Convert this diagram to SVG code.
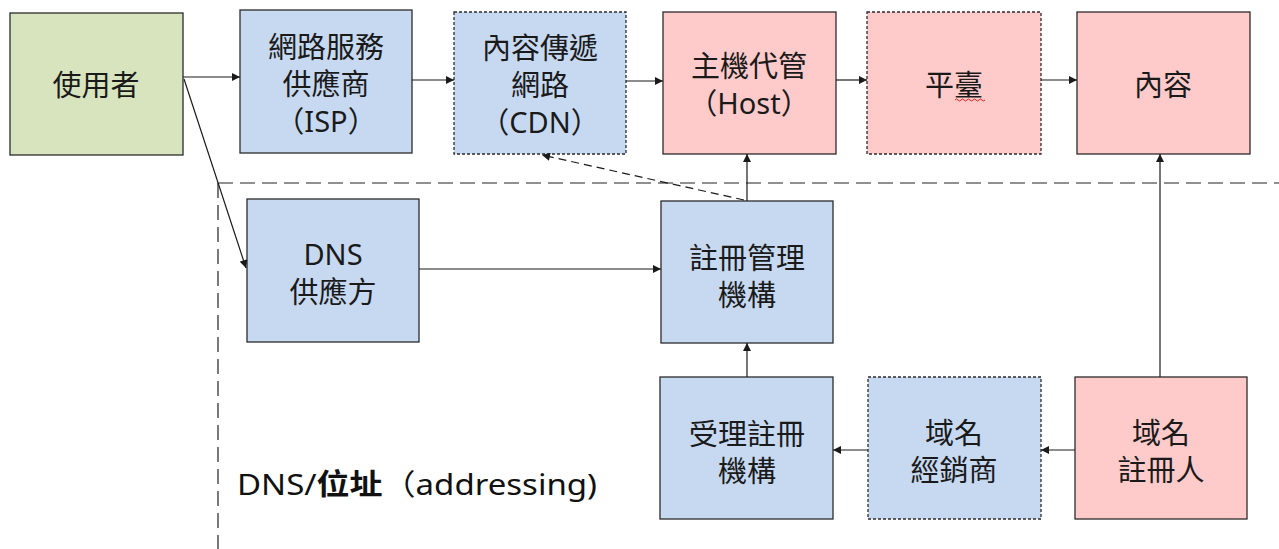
<svg xmlns="http://www.w3.org/2000/svg" width="1279" height="549" viewBox="0 0 1279 549">
<style>
  .box{stroke:#2b2b2b;stroke-width:1.3}
  .dash{stroke-dasharray:3,2}
  .green{fill:#d7e4bd}
  .blue{fill:#c6d9f1}
  .pink{fill:#ffcaca}
  .t{font-family:"Noto Sans","Noto Sans CJK TC",sans-serif;font-size:29px;fill:#1a1a1a;text-anchor:middle;dominant-baseline:central}
  .c{stroke:#1a1a1a;stroke-width:1.2;fill:none}
  .sep{stroke:#222;stroke-width:1.2;fill:none;stroke-dasharray:15,7}
</style>
<defs>
  <marker id="ah" viewBox="0 0 10 10" refX="10" refY="5" markerWidth="10" markerHeight="8" markerUnits="userSpaceOnUse" orient="auto">
    <path d="M0,0 L10,5 L0,10 z" fill="#1a1a1a"/>
  </marker>
</defs>
<rect width="1279" height="549" fill="#ffffff"/>
<g id="separators">
  <line class="sep" x1="218" y1="183" x2="1279" y2="183"/>
  <line class="sep" x1="218" y1="183" x2="218" y2="549"/>
</g>
<g id="user">
  <rect class="box green" x="10" y="13" width="173" height="142"/>
  <text class="t" x="96" y="84">使用者</text>
</g>
<g id="isp">
  <rect class="box blue" x="240" y="10" width="172" height="143"/>
  <text class="t" x="326" y="46">網路服務</text>
  <text class="t" x="326" y="83">供應商</text>
  <text class="t" x="326" y="120">（ISP）</text>
</g>
<g id="cdn">
  <rect class="box blue dash" x="454" y="12" width="172" height="142"/>
  <text class="t" x="540" y="47">內容傳遞</text>
  <text class="t" x="540" y="84">網路</text>
  <text class="t" x="540" y="121">（CDN）</text>
</g>
<g id="host">
  <rect class="box pink" x="663" y="12" width="173" height="142"/>
  <text class="t" x="749" y="65">主機代管</text>
  <text class="t" x="749" y="102">（Host）</text>
</g>
<g id="platform">
  <rect class="box pink dash" x="867" y="12" width="174" height="142"/>
  <text class="t" x="954" y="84">平臺</text>
  <path d="M955,100 q1.5,-2 3,0 t3,0 t3,0 t3,0 t3,0 t3,0 t3,0 t3,0 t3,0 t3,0" fill="none" stroke="#e02020" stroke-width="1"/>
</g>
<g id="content">
  <rect class="box pink" x="1077" y="12" width="173" height="142"/>
  <text class="t" x="1163" y="84">內容</text>
</g>
<g id="dns">
  <rect class="box blue" x="247" y="199" width="172" height="143"/>
  <text class="t" x="333" y="253">DNS</text>
  <text class="t" x="333" y="291">供應方</text>
</g>
<g id="registry">
  <rect class="box blue" x="661" y="201" width="172" height="142"/>
  <text class="t" x="747" y="257">註冊管理</text>
  <text class="t" x="747" y="294">機構</text>
</g>
<g id="registrar">
  <rect class="box blue" x="660" y="377" width="173" height="142"/>
  <text class="t" x="747" y="433">受理註冊</text>
  <text class="t" x="747" y="470">機構</text>
</g>
<g id="reseller">
  <rect class="box blue dash" x="868" y="377" width="173" height="142"/>
  <text class="t" x="954" y="432">域名</text>
  <text class="t" x="954" y="469">經銷商</text>
</g>
<g id="registrant">
  <rect class="box pink" x="1075" y="377" width="172" height="142"/>
  <text class="t" x="1161" y="432">域名</text>
  <text class="t" x="1161" y="469">註冊人</text>
</g>
<g id="label">
  <text x="237" y="483" textLength="360" lengthAdjust="spacingAndGlyphs" style="font-family:'Noto Sans','Noto Sans CJK TC',sans-serif;font-size:29px;fill:#111;dominant-baseline:central">DNS/<tspan font-weight="bold">位址</tspan>（addressing)</text>
</g>
<g id="connectors">
  <line class="c" x1="183" y1="77" x2="240" y2="77" marker-end="url(#ah)"/>
  <line class="c" x1="412" y1="80" x2="454" y2="80" marker-end="url(#ah)"/>
  <line class="c" x1="626" y1="81" x2="663" y2="81" marker-end="url(#ah)"/>
  <line class="c" x1="836" y1="80" x2="867" y2="80" marker-end="url(#ah)"/>
  <line class="c" x1="1041" y1="80" x2="1077" y2="80" marker-end="url(#ah)"/>
  <line class="c" x1="184" y1="79" x2="246" y2="268" marker-end="url(#ah)"/>
  <line class="c" x1="419" y1="269" x2="661" y2="269" marker-end="url(#ah)"/>
  <line class="c" x1="747" y1="201" x2="747" y2="154" marker-end="url(#ah)"/>
  <line class="c" x1="744" y1="200" x2="542" y2="155" stroke-dasharray="8,5" marker-end="url(#ah)"/>
  <line class="c" x1="747" y1="377" x2="747" y2="343" marker-end="url(#ah)"/>
  <line class="c" x1="868" y1="450" x2="833" y2="450" marker-end="url(#ah)"/>
  <line class="c" x1="1075" y1="450" x2="1041" y2="450" marker-end="url(#ah)"/>
  <line class="c" x1="1160" y1="377" x2="1160" y2="154" marker-end="url(#ah)"/>
</g>
</svg>
